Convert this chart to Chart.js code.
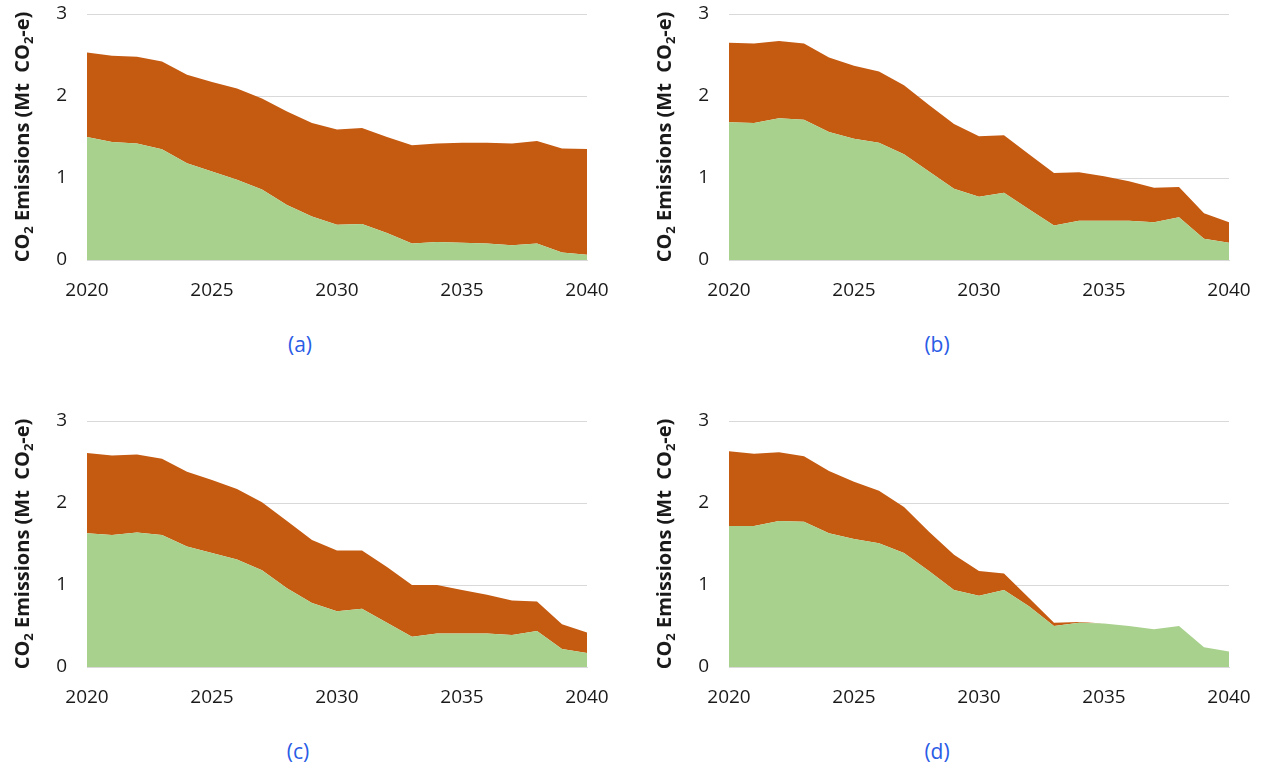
<!DOCTYPE html>
<html>
<head>
<meta charset="utf-8">
<script src="https://cdn.jsdelivr.net/npm/chart.js@4"></script>
<style>
  html, body { margin: 0; padding: 0; background: #fff; }
  body { width: 1262px; height: 767px; position: relative; overflow: hidden; font-family: 'Open Sans', sans-serif; }
  .panel { position: absolute; width: 620px; height: 300px; }
  .caption { position: absolute; width: 80px; text-align: center; color: #2a5ce6; font-size: 21px; line-height: 28px; }
</style>
</head>
<body>
<div class="panel" style="left:0;top:0"><canvas id="chartA"></canvas></div>
<div class="panel" style="left:642px;top:0"><canvas id="chartB"></canvas></div>
<div class="panel" style="left:0;top:407px"><canvas id="chartC"></canvas></div>
<div class="panel" style="left:642px;top:407px"><canvas id="chartD"></canvas></div>
<div class="caption" style="left:260px;top:330px">(a)</div>
<div class="caption" style="left:897px;top:330px">(b)</div>
<div class="caption" style="left:258px;top:737px">(c)</div>
<div class="caption" style="left:897px;top:737px">(d)</div>

<script>
/* ─── Data ──────────────────────────────────────────────────────────────── */
const years = [2020, 2021, 2022, 2023, 2024, 2025, 2026, 2027, 2028, 2029, 2030,
               2031, 2032, 2033, 2034, 2035, 2036, 2037, 2038, 2039, 2040];
const yTicks = [0, 1, 2, 3];

// (a)
const greenA  = [1.50, 1.44, 1.42, 1.35, 1.18, 1.08, 0.98, 0.86, 0.67, 0.53, 0.43,
                 0.44, 0.33, 0.20, 0.22, 0.21, 0.20, 0.18, 0.20, 0.09, 0.065];
const orangeA = [1.03, 1.05, 1.06, 1.07, 1.08, 1.09, 1.11, 1.11, 1.14, 1.14, 1.16,
                 1.17, 1.17, 1.20, 1.20, 1.22, 1.23, 1.24, 1.25, 1.27, 1.29];
// (b)
const greenB  = [1.68, 1.67, 1.73, 1.71, 1.56, 1.48, 1.43, 1.29, 1.08, 0.87, 0.77,
                 0.82, 0.62, 0.42, 0.48, 0.48, 0.48, 0.46, 0.52, 0.26, 0.21];
const orangeB = [0.97, 0.97, 0.94, 0.93, 0.91, 0.89, 0.87, 0.84, 0.81, 0.79, 0.74,
                 0.70, 0.67, 0.64, 0.59, 0.54, 0.48, 0.42, 0.37, 0.31, 0.25];
// (c)
const greenC  = [1.63, 1.61, 1.64, 1.61, 1.47, 1.39, 1.31, 1.18, 0.96, 0.78, 0.68,
                 0.71, 0.54, 0.37, 0.41, 0.41, 0.41, 0.39, 0.44, 0.22, 0.17];
const orangeC = [0.98, 0.97, 0.95, 0.93, 0.91, 0.89, 0.86, 0.83, 0.82, 0.77, 0.74,
                 0.71, 0.68, 0.63, 0.59, 0.53, 0.47, 0.42, 0.36, 0.30, 0.25];
// (d)
const greenD  = [1.72, 1.72, 1.78, 1.77, 1.63, 1.56, 1.51, 1.39, 1.17, 0.94, 0.87,
                 0.94, 0.74, 0.50, 0.54, 0.53, 0.50, 0.46, 0.50, 0.24, 0.19];
const orangeD = [0.91, 0.88, 0.84, 0.80, 0.76, 0.70, 0.64, 0.56, 0.48, 0.43, 0.30,
                 0.20, 0.10, 0.04, 0.01, 0, 0, 0, 0, 0, 0];

/* ─── Styling ───────────────────────────────────────────────────────────── */
const GREEN  = '#a9d18e';
const ORANGE = '#c55a11';
const GRID   = '#d9d9d9';
const TEXT   = '#1a1a1a';
const FONT   = "'Open Sans', sans-serif";

Chart.defaults.font.family = FONT;
Chart.defaults.color = TEXT;

// y-axis title with real subscripts, drawn rotated
const yTitlePlugin = {
  id: 'yTitle',
  afterDraw(chart) {
    const ctx = chart.ctx;
    const parts = [
      ['CO', false], ['2', true], [' Emissions (Mt  CO', false], ['2', true], ['-e)', false],
    ];
    const big = `bold 20px ${FONT}`;
    const small = `bold 13px ${FONT}`;
    ctx.save();
    let total = 0;
    parts.forEach(([t, sub]) => { ctx.font = sub ? small : big; total += ctx.measureText(t).width; });
    const cy = (chart.chartArea.top + chart.chartArea.bottom) / 2;
    ctx.translate(29, cy);
    ctx.rotate(-Math.PI / 2);
    ctx.fillStyle = TEXT;
    ctx.textBaseline = 'alphabetic';
    let x = -total / 2;
    parts.forEach(([t, sub]) => {
      ctx.font = sub ? small : big;
      ctx.fillText(t, x, sub ? 4 : 0);
      x += ctx.measureText(t).width;
    });
    ctx.restore();
  },
};

function makeChart(id, green, orange) {
  return new Chart(document.getElementById(id), {
    type: 'line',
    data: {
      labels: years,
      datasets: [
        { label: 'Green', data: green, backgroundColor: GREEN, fill: 'origin' },
        { label: 'Orange', data: orange, backgroundColor: ORANGE, fill: '-1' },
      ],
    },
    options: {
      responsive: true,
      maintainAspectRatio: false,
      animation: false,
      layout: { padding: { top: 14, right: 33, bottom: 0, left: 0 } },
      elements: {
        line: { borderWidth: 0, tension: 0 },
        point: { radius: 0 },
      },
      plugins: { legend: { display: false }, tooltip: { enabled: false } },
      scales: {
        x: {
          offset: false,
          grid: { display: false },
          border: { display: true, color: GRID, width: 1 },
          ticks: {
            autoSkip: false,
            maxRotation: 0,
            padding: 11,
            font: { size: 19 },
            callback(v, i) { return years[i] % 5 === 0 ? String(years[i]) : ''; },
          },
          afterFit(scale) {
            scale.height = 40;
            scale.paddingLeft = 0;
            scale.paddingRight = 0;
          },
        },
        y: {
          stacked: true,
          min: 0,
          max: 3,
          afterBuildTicks(scale) { scale.ticks = yTicks.map(v => ({ value: v })); },
          grid: { color: GRID, drawTicks: false },
          border: { display: false },
          ticks: { padding: 20, font: { size: 19 } },
          afterFit(scale) {
            scale.width = 87;
            scale.paddingTop = 0;
            scale.paddingBottom = 0;
          },
        },
      },
    },
    plugins: [yTitlePlugin],
  });
}

makeChart('chartA', greenA, orangeA);
makeChart('chartB', greenB, orangeB);
makeChart('chartC', greenC, orangeC);
makeChart('chartD', greenD, orangeD);
</script>
</body>
</html>
